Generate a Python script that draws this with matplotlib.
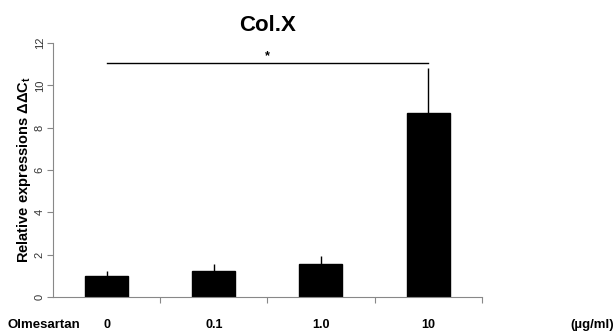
import matplotlib.pyplot as plt
import numpy as np

plt.rcParams['font.family'] = ['Liberation Sans', 'DejaVu Sans']
plt.rcParams['mathtext.default'] = 'regular'

# Data
doses = ['0', '0.1', '1.0', '10']
means = [1.0, 1.24, 1.56, 8.69]
errs = [0.24, 0.30, 0.39, 2.13]
sig_level = 11.07

fig = plt.figure(figsize=(6.16, 3.34), dpi=100)
ax = fig.add_axes([0.086, 0.111, 0.696, 0.76])

x = np.arange(len(doses))
ax.bar(x, means, width=0.4, color='black', edgecolor='black', zorder=2)
ax.errorbar(x, means, yerr=[np.zeros(len(errs)), errs], fmt='none',
            ecolor='black', elinewidth=1, capsize=0, zorder=1)

# significance bar between 0 and 10
ax.plot([x[0], x[-1]], [sig_level, sig_level], color='black', lw=1)
ax.text((x[0] + x[-1]) / 2, sig_level + 0.05, '*', ha='center', va='bottom',
        fontsize=9, fontweight='bold')

ax.set_xlim(-0.5, len(doses) - 0.5)
ax.set_ylim(0, 12)
ax.set_yticks(range(0, 13, 2))
ax.set_yticklabels([str(v) for v in range(0, 13, 2)], rotation=90, va='center',
                   fontsize=8, color='#333333')
ax.tick_params(axis='y', length=4, color='#888888', width=0.8, pad=2)

ax.set_xticks(x)
ax.set_xticklabels(doses, fontsize=9, fontweight='bold')
ax.tick_params(axis='x', which='major', length=0, pad=16)
ax.set_xticks(np.arange(0.5, len(doses)), minor=True)
ax.tick_params(axis='x', which='minor', length=4, color='#888888', width=0.8)

for s in ['top', 'right']:
    ax.spines[s].set_visible(False)
for s in ['left', 'bottom']:
    ax.spines[s].set_color('#888888')
    ax.spines[s].set_linewidth(0.8)

ax.set_ylabel('Relative expressions ΔΔC$_t$', fontsize=10.5, fontweight='bold')
ax.yaxis.set_label_coords(-0.046, 0.5)
ax.set_title('Col.X', fontsize=16, fontweight='bold', pad=9)

fig.text(0.012, 0.027, 'Olmesartan', fontsize=9.5, fontweight='bold', va='center')
fig.text(0.997, 0.027, '(µg/ml)', fontsize=9.5, fontweight='bold', va='center',
         ha='right')

fig.savefig('out.png', dpi=100)
